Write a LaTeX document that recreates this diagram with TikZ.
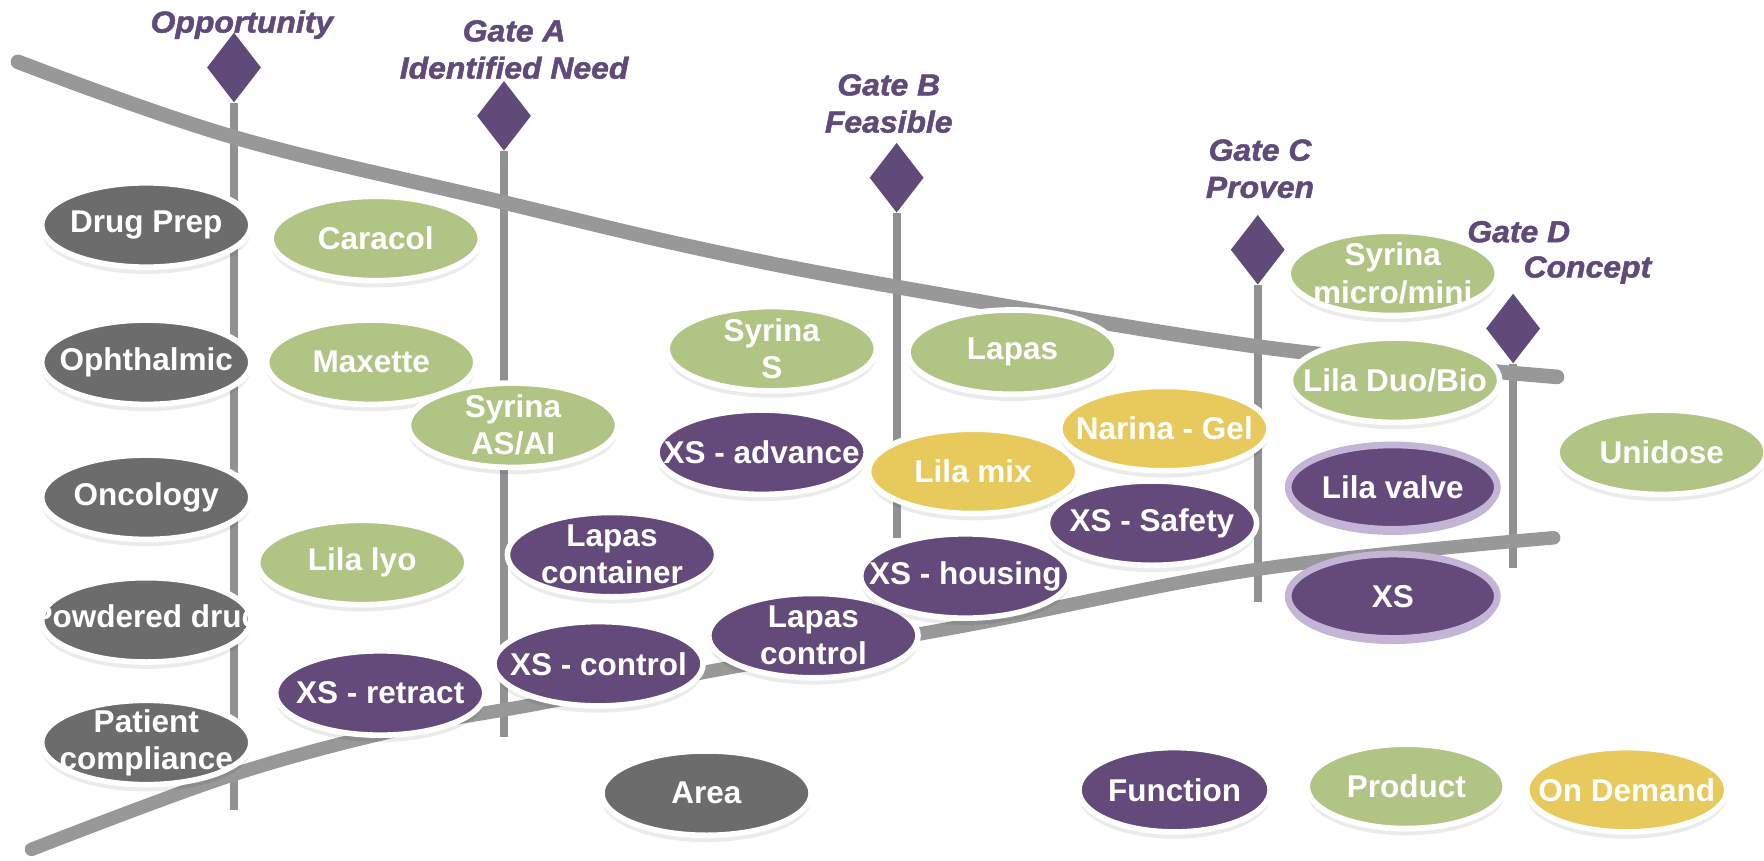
\documentclass[tikz,border=0pt]{standalone}
\usepackage{fontspec}
\setmainfont{Liberation Sans}
\newfontfamily\hdfont{Liberation Sans}[BoldItalicFeatures={FakeBold=1.6, FakeStretch=1.05}]
\usetikzlibrary{shapes.geometric,shadows}
\definecolor{area}{RGB}{108,108,108}
\definecolor{prod}{RGB}{176,196,132}
\definecolor{func}{RGB}{99,74,122}
\definecolor{dem}{RGB}{232,201,92}
\definecolor{lav}{RGB}{196,180,214}
\definecolor{gate}{RGB}{96,74,122}
\definecolor{gline}{RGB}{145,145,145}
\definecolor{band}{RGB}{152,152,152}
\begin{document}
\begin{tikzpicture}[x=1pt,y=-1pt,
  lbl/.style={text=white, font=\fontsize{28}{33}\selectfont\bfseries, align=center, inner sep=0pt},
  t/.style={label={[lbl]center:#1}},
  base/.style={ellipse, minimum width=186, minimum height=75, inner sep=0pt},
  bub/.style={base, draw=white, line width=5,
    drop shadow={shadow xshift=0pt, shadow yshift=-6pt, fill=black, opacity=0.08}},
  lbub/.style={base, fill=func, draw=lav, line width=6,
    drop shadow={shadow xshift=0pt, shadow yshift=-5pt, fill=lav, opacity=1}},
  ar/.style={bub, fill=area},
  pr/.style={bub, fill=prod},
  fn/.style={bub, fill=func},
  dm/.style={bub, fill=dem},
  gatemark/.style={diamond, fill=gate, minimum width=48, minimum height=62, aspect=0.77, inner sep=0pt},
  gateline/.style={draw=gline, line width=7},
  hd/.style={text=gate, font=\fontsize{27}{33}\selectfont\hdfont\bfseries\itshape, align=center, inner sep=0pt},
  bandline/.style={draw=band, line width=13, line cap=round}
]
\useasboundingbox (0,0) rectangle (1568,765);

% gate diamonds and lines
\node[gatemark] (dO) at (208,60) {};
\node[gatemark] (dA) at (448,103) {};
\node[gatemark] (dB) at (797,158) {};
\node[gatemark] (dC) at (1118,222) {};
\node[gatemark] (dD) at (1345,292) {};
\coordinate (eO) at (208,720);
\coordinate (eA) at (448,655);
\coordinate (eB) at (797,478);
\coordinate (eC) at (1118,535);
\coordinate (eD) at (1345,505);
\draw[gateline] (dO.south) -- (eO);
\draw[gateline] (dA.south) -- (eA);
\draw[gateline] (dB.south) -- (eB);
\draw[gateline] (dC.south) -- (eC);
\draw[gateline] (dD.south) -- (eD);

% funnel bands
\draw[bandline] plot[smooth, tension=0.6] coordinates {(16,55) (208,122) (448,180) (622,221) (797,255) (1118,308) (1384,335)};
\draw[bandline, line width=12] plot[smooth, tension=0.6] coordinates {(28,755) (206,689) (357,648) (476,626) (640,595) (864,555) (1118,506) (1381,478)};

% headings
\node[hd] (tO) at (215,22) {Opportunity};
\node[hd] (tA) at (457,44) {Gate A\\Identified Need};
\node[hd] (tB) at (790,92) {Gate B\\Feasible};
\node[hd] (tC) at (1120,150) {Gate C\\Proven};
\node[hd] (tD) at (1350,206) {Gate D};
\node[hd] (tD2) at (1411,240) {Concept};

% area column
\node[ar, t={Drug Prep}] (drug) at (130,200) {};
\node[ar, t={Ophthalmic}] (oph) at (130,322) {};
\node[ar, t={Oncology}] (onc) at (130,442) {};
\node[ar, t={Powdered drug}] (pow) at (130,551) {};
\node[ar, t={Patient\\compliance}] (pat) at (130,660) {};

% products / functions
\node[pr, t={Caracol}] (cara) at (334,212) {};
\node[pr, t={Maxette}] (maxe) at (330,322) {};
\node[pr, t={Lila lyo}] (lyo) at (322,500) {};
\node[pr, t={Syrina\\AS/AI}] (syas) at (456,378) {};
\node[fn, t={XS - retract}] (xsr) at (338,616) {};
\node[fn, t={Lapas\\container}] (lcont) at (544,493) {};
\node[fn, t={XS - control}] (xsc) at (532,590) {};
\node[fn, t={Lapas\\control}] (lctrl) at (723,565) {};
\node[pr, t={Syrina\\S}] (sys) at (686,310) {};
\node[fn, t={XS - advance}] (xsa) at (677,402) {};
\node[pr, t={Lapas}] (lapas) at (900,313) {};
\node[fn, t={XS - housing}] (xsh) at (858,512) {};
\node[dm, t={Lila mix}] (mix) at (865,419) {};
\node[fn, t={XS - Safety}] (xss) at (1024,465) {};
\node[dm, t={Narina - Gel}] (nar) at (1035,381) {};
\node[pr, t={Syrina\\micro/mini}] (sym) at (1238,243) {};
\node[pr, t={Lila Duo/Bio}] (duo) at (1240,338) {};
\node[lbub, t={Lila valve}] (valve) at (1238,433) {};
\node[lbub, t={XS}] (xs) at (1238,530) {};
\node[pr, t={Unidose}] (uni) at (1477,402) {};

% legend
\node[ar, t={Area}] (lgA) at (628,705) {};
\node[fn, minimum width=170, t={Function}] (lgF) at (1044,702) {};
\node[pr, minimum width=176, t={Product}] (lgP) at (1250,699) {};
\node[dm, minimum width=178, t={On Demand}] (lgD) at (1446,702) {};
\end{tikzpicture}
\end{document}
